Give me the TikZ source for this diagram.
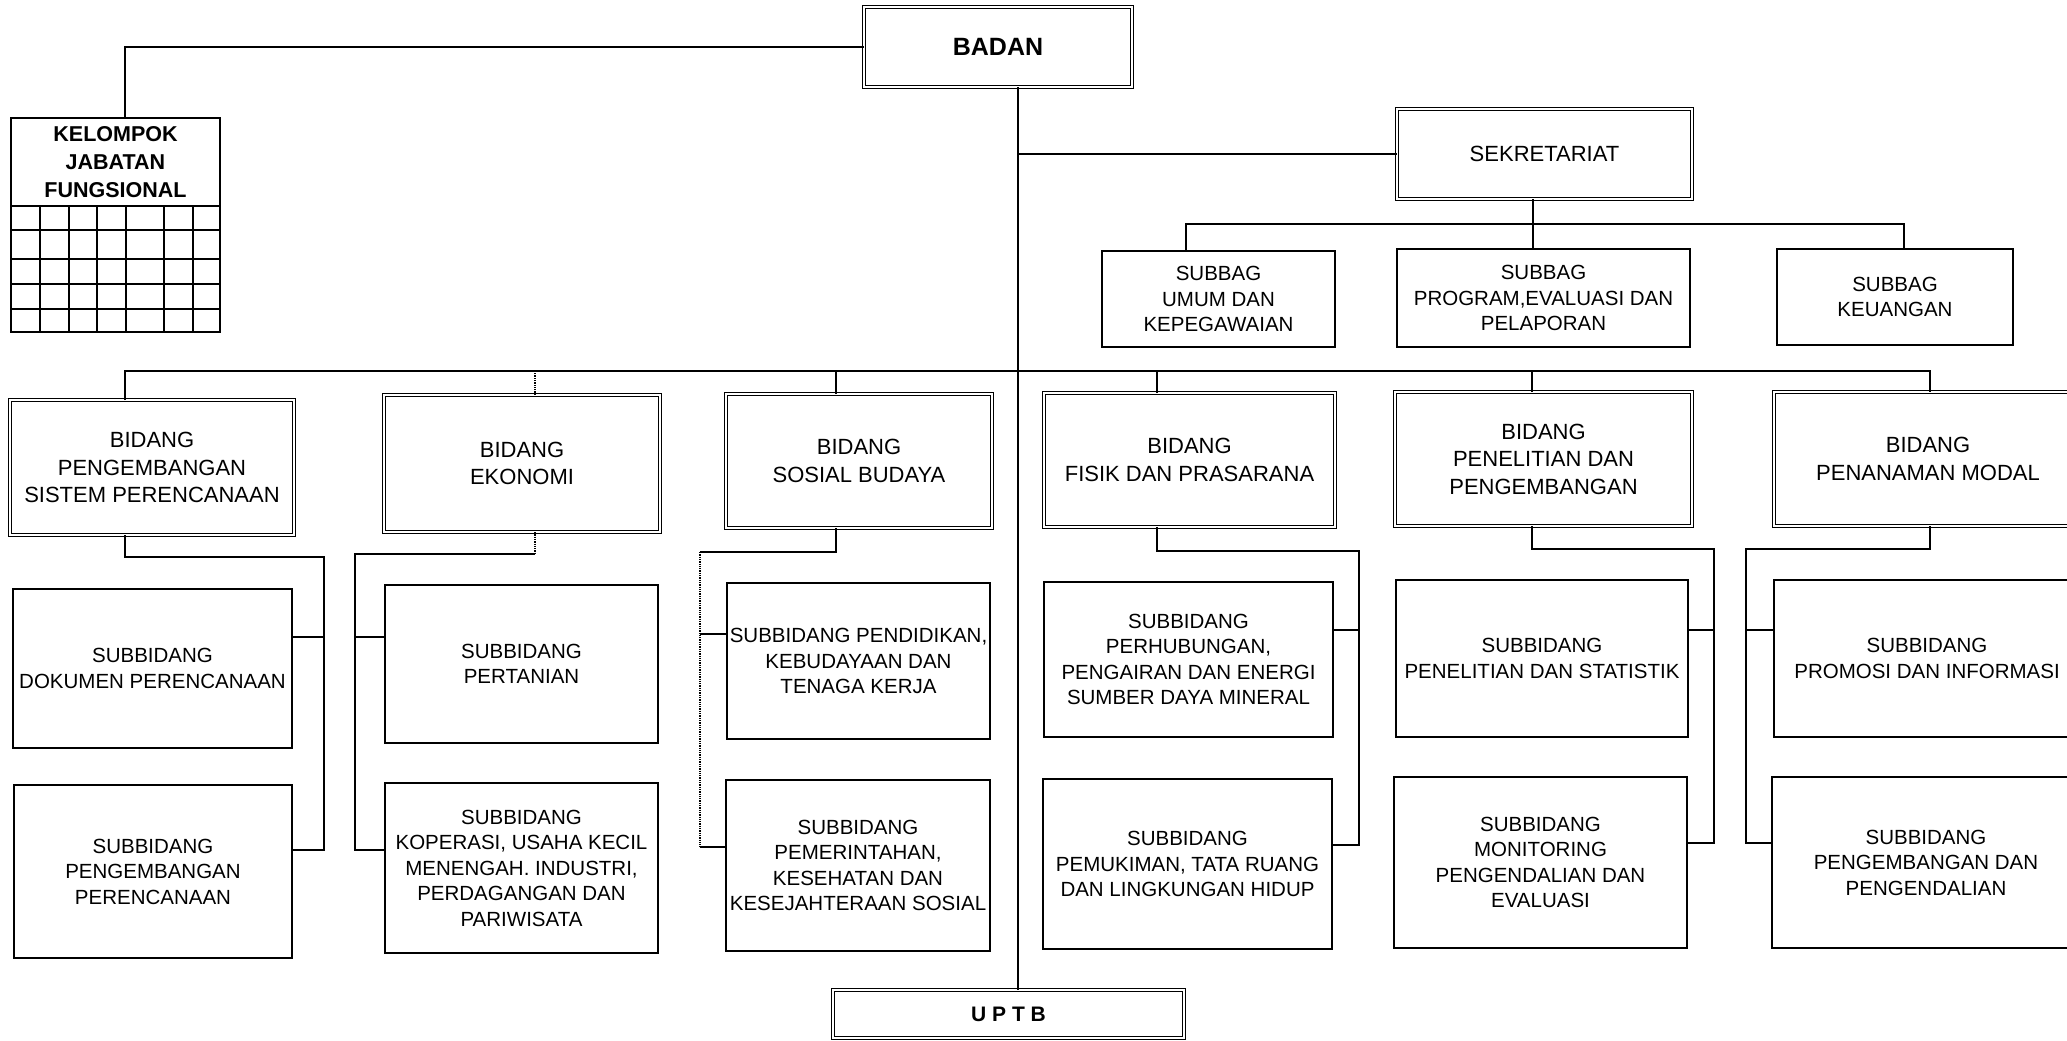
\documentclass[tikz,border=0pt]{standalone}
\usepackage{fontspec}
\setmainfont{Liberation Sans}
\usetikzlibrary{calc}
\begin{document}
\begin{tikzpicture}[x=1pt,y=-1pt,
  ln/.style={line width=1.5pt},
  faint/.style={line width=1.3pt, densely dotted},
  gridln/.style={line width=1.4pt},
  plainbox/.style={draw, line width=1.5pt, align=center, inner sep=0pt, outer sep=0pt,
    font=\fontsize{20.5}{25.5}\selectfont},
  dblbox/.style={draw, line width=1.1pt, double, double distance=1.8pt, align=center,
    inner sep=0pt, outer sep=0pt, font=\fontsize{22}{27.5}\selectfont},
  sz/.style 2 args={minimum width=#1pt, minimum height=#2pt}]

\useasboundingbox (0,0) rectangle (2067,1041);
\fill[white] (0,0) rectangle (2067,1041);
\clip (0,0) rectangle (2067,1041);

% ---------- head and staff ----------
\node[dblbox, sz={268}{80}, font=\fontsize{25}{30}\selectfont\bfseries] (badan) at (998,47) {BADAN};
\node[draw, line width=1.5pt, sz={209}{88}, align=center, inner sep=0pt, outer sep=0pt,
  font=\fontsize{21.5}{28}\selectfont\bfseries] (kjf) at (115.5,162) {KELOMPOK\\JABATAN\\FUNGSIONAL};
\node[dblbox, sz={295}{90}] (sekr) at (1544.5,154) {SEKRETARIAT};
\node[dblbox, sz={351}{48}, font=\fontsize{21}{25}\selectfont\bfseries] (uptb) at (1008.5,1014) {U P T B};

% grid of the functional group
\draw[gridln] (kjf.south west) rectangle (220,332);
\foreach \gx in {40,69,97,126,164,193} \draw[gridln] (\gx,206) -- (\gx,332);
\foreach \gy in {230,259,284,309} \draw[gridln] (11,\gy) -- (220,\gy);

% ---------- secretariat sections ----------
\node[plainbox, sz={233}{96}] (sub1) at (1218.5,299) {SUBBAG\\UMUM DAN\\KEPEGAWAIAN};
\node[plainbox, sz={293}{98}] (sub2) at (1543.5,298) {SUBBAG\\PROGRAM,EVALUASI DAN\\PELAPORAN};
\node[plainbox, sz={236}{96}] (sub3) at (1895,297) {SUBBAG\\KEUANGAN};

% ---------- divisions ----------
\node[dblbox, sz={284}{135}] (b1) at (152,467.5) {BIDANG\\PENGEMBANGAN\\SISTEM PERENCANAAN};
\node[dblbox, sz={276}{137}] (b2) at (522,463.5) {BIDANG\\EKONOMI};
\node[dblbox, sz={266}{134}] (b3) at (859,461) {BIDANG\\SOSIAL BUDAYA};
\node[dblbox, sz={291}{134}] (b4) at (1189.5,460) {BIDANG\\FISIK DAN PRASARANA};
\node[dblbox, sz={297}{134}] (b5) at (1543.5,459) {BIDANG\\PENELITIAN DAN\\PENGEMBANGAN};
\node[dblbox, sz={308}{134}] (b6) at (1928,459) {BIDANG\\PENANAMAN MODAL};

% ---------- sub-divisions ----------
\node[plainbox, sz={279}{159}] (s11) at (152.5,668.5) {SUBBIDANG\\DOKUMEN PERENCANAAN};
\node[plainbox, sz={278}{173}] (s12) at (153,871.5) {SUBBIDANG\\PENGEMBANGAN\\PERENCANAAN};
\node[plainbox, sz={273}{158}] (s21) at (521.5,664) {SUBBIDANG\\PERTANIAN};
\node[plainbox, sz={273}{170}] (s22) at (521.5,868) {SUBBIDANG\\KOPERASI, USAHA KECIL\\MENENGAH. INDUSTRI,\\PERDAGANGAN DAN\\PARIWISATA};
\node[plainbox, sz={263}{156}] (s31) at (858.5,661) {SUBBIDANG PENDIDIKAN,\\KEBUDAYAAN DAN\\TENAGA KERJA};
\node[plainbox, sz={264}{171}] (s32) at (858,865.5) {SUBBIDANG\\PEMERINTAHAN,\\KESEHATAN DAN\\KESEJAHTERAAN SOSIAL};
\node[plainbox, sz={289}{155}] (s41) at (1188.5,659.5) {SUBBIDANG\\PERHUBUNGAN,\\PENGAIRAN DAN ENERGI\\SUMBER DAYA MINERAL};
\node[plainbox, sz={289}{170}] (s42) at (1187.5,864) {SUBBIDANG\\PEMUKIMAN, TATA RUANG\\DAN LINGKUNGAN HIDUP};
\node[plainbox, sz={292}{157}] (s51) at (1542,658.5) {SUBBIDANG\\PENELITIAN DAN STATISTIK};
\node[plainbox, sz={293}{171}] (s52) at (1540.5,862.5) {SUBBIDANG\\MONITORING\\PENGENDALIAN DAN\\EVALUASI};
\node[plainbox, sz={306}{157}] (s61) at (1927,658.5) {SUBBIDANG\\PROMOSI DAN INFORMASI};
\node[plainbox, sz={308}{171}] (s62) at (1926,862.5) {SUBBIDANG\\PENGEMBANGAN DAN\\PENGENDALIAN};

% ---------- main lines ----------
\coordinate (spx) at (1018,0);
\coordinate (kjft) at ($(kjf.north)+(9.5,0)$);
\draw[ln] (badan.west) -| (kjft);
\draw[ln] (badan.south -| spx) -- (uptb.north -| spx);
\draw[ln] (sekr.west) -- (sekr.west -| spx);

% secretariat bus
\coordinate (sbus) at (0,224);
\coordinate (sub1t) at ($(sub1.north)+(-32.5,0)$);
\coordinate (sub3t) at ($(sub3.north)+(9,0)$);
\coordinate (sekrb) at ($(sekr.south)+(-11.5,0)$);
\draw[ln] (sub1t) -- (sub1t |- sbus) -- (sub3t |- sbus) -- (sub3t);
\draw[ln] (sekrb) -- (sekrb |- sub2.north);

% division bus
\coordinate (bus) at (0,371);
\coordinate (b1t) at ($(b1.north)+(-27,0)$);
\coordinate (b2t) at ($(b2.north)+(13,0)$);
\coordinate (b3t) at ($(b3.north)+(-23,0)$);
\coordinate (b4t) at ($(b4.north)+(-32.5,0)$);
\coordinate (b5t) at ($(b5.north)+(-11.5,0)$);
\coordinate (b6t) at ($(b6.north)+(2,0)$);
\draw[ln] (b1t) -- (b1t |- bus) -- (b6t |- bus) -- (b6t);
\draw[faint] (b2t) -- (b2t |- bus);
\foreach \t in {b3t,b4t,b5t} \draw[ln] (\t) -- (\t |- bus);

% ---------- division to sub-division lines ----------
% planning system
\coordinate (b1d) at ($(b1.south)+(-27,0)$);
\coordinate (r1) at (324,557);
\coordinate (s11c) at ($(s11.east)+(0,-31.5)$);
\coordinate (s12c) at ($(s12.east)+(0,-21.5)$);
\draw[ln] (b1d) |- (r1) |- (s12c);
\draw[ln] (s11c) -- (s11c -| r1);

% economy
\coordinate (b2d) at ($(b2.south)+(13,0)$);
\coordinate (r2) at (355,554);
\coordinate (s21c) at ($(s21.west)+(0,-27)$);
\coordinate (s22c) at ($(s22.west)+(0,-18)$);
\draw[faint] (b2d) -- (b2d |- r2);
\draw[ln] (b2d |- r2) -- (r2) |- (s22c);
\draw[ln] (s21c) -- (s21c -| r2);

% social and culture
\coordinate (b3d) at ($(b3.south)+(-23,0)$);
\coordinate (r3) at (700,552);
\coordinate (s31c) at ($(s31.west)+(0,-27)$);
\coordinate (s32c) at ($(s32.west)+(0,-18.5)$);
\draw[ln] (b3d) |- (r3);
\draw[faint] (r3) -- (r3 |- s32c);
\draw[ln] (r3 |- s32c) -- (s32c);
\draw[ln] (s31c) -- (s31c -| r3);

% physical and infrastructure
\coordinate (b4d) at ($(b4.south)+(-32.5,0)$);
\coordinate (r4) at (1359,551);
\coordinate (s41c) at ($(s41.east)+(0,-29.5)$);
\coordinate (s42c) at ($(s42.east)+(0,-19)$);
\draw[ln] (b4d) |- (r4) |- (s42c);
\draw[ln] (s41c) -- (s41c -| r4);

% research and development
\coordinate (b5d) at ($(b5.south)+(-11.5,0)$);
\coordinate (r5) at (1714,549);
\coordinate (s51c) at ($(s51.east)+(0,-28.5)$);
\coordinate (s52c) at ($(s52.east)+(0,-19.5)$);
\draw[ln] (b5d) |- (r5) |- (s52c);
\draw[ln] (s51c) -- (s51c -| r5);

% investment
\coordinate (b6d) at ($(b6.south)+(2,0)$);
\coordinate (r6) at (1746,549);
\coordinate (s61c) at ($(s61.west)+(0,-28.5)$);
\coordinate (s62c) at ($(s62.west)+(0,-19.5)$);
\draw[ln] (b6d) |- (r6) |- (s62c);
\draw[ln] (s61c) -- (s61c -| r6);

\end{tikzpicture}
\end{document}
